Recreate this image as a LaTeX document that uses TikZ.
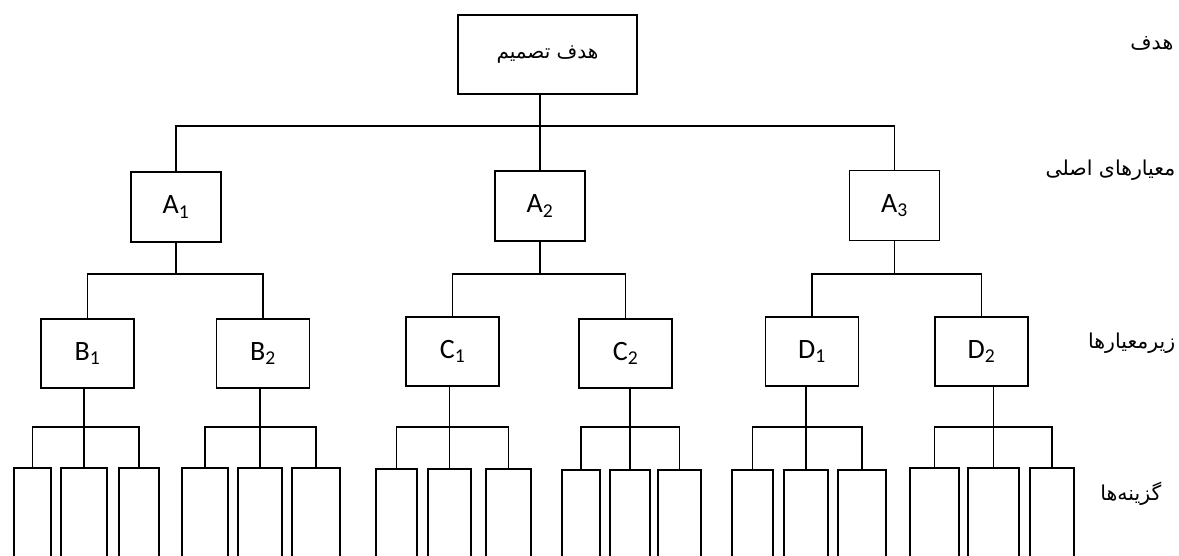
\documentclass[tikz,border=0pt]{standalone}
\usepackage{fontspec}
\setmainfont{Carlito}
\newfontfamily\farsi[Script=Arabic]{DejaVu Sans}
\TeXXeTstate=1
\usetikzlibrary{positioning}

\begin{document}
\begin{tikzpicture}[x=1pt, y=-1pt, line width=1.4pt,
                      goal/.style = {
                        draw, rectangle, inner sep=0pt,
                        minimum width=179pt, minimum height=79pt,
                        font=\farsi\fontsize{20}{24}\selectfont
                      },
                      crit/.style = {
                        draw, rectangle, inner sep=0pt,
                        minimum width=90pt, minimum height=70pt,
                        font=\fontsize{28}{32}\selectfont
                      },
                      subcrit/.style = {
                        crit,
                        minimum width=93pt, minimum height=69pt
                      },
                      alt/.style = {
                        draw, rectangle, inner sep=0pt,
                        minimum width=44pt, minimum height=100pt
                      },
                      level/.style = {
                        inner sep=0pt, anchor=east,
                        font=\farsi\fontsize{20.5}{24}\selectfont
                      }]
    \useasboundingbox (0,0) rectangle (1179,556);

    % levels on the right
    \node(lgoal)[level] at (1174, 43) {\beginR هدف\endR};
    \node(lcrit)[level] at (1176,170) {\beginR معیارهای اصلی\endR};
    \node(lsub)[level]  at (1176,343) {\beginR زیرمعیارها\endR};
    \node(lalt)[level]  at (1162,494) {\beginR گزینه‌ها\endR};

    \node(goal)[goal] at (547.5,54.5) {\beginR هدف تصمیم\endR};

    \node(A1)[crit] at (176,207)   {A\textsubscript{1}};
    \node(A2)[crit] at (540,206)   {A\textsubscript{2}};
    \node(A3)[crit] at (894.5,205.5) {A\textsubscript{3}};

    \node(B1)[subcrit] at (87.5,353.5)  {B\textsubscript{1}};
    \node(B2)[subcrit] at (263,353.5)   {B\textsubscript{2}};
    \node(C1)[subcrit] at (452.5,351.5) {C\textsubscript{1}};
    \node(C2)[subcrit] at (625.5,353.5) {C\textsubscript{2}};
    \node(D1)[subcrit] at (812,351.5)   {D\textsubscript{1}};
    \node(D2)[subcrit] at (981.5,351.5) {D\textsubscript{2}};

    % alternatives, cut off by the page
    \node(b11)[alt, minimum width=37pt] at (32.5,518) {};
    \node(b12)[alt, minimum width=46pt] at (84,518)   {};
    \node(b13)[alt, minimum width=40pt] at (139,518)  {};
    \node(b21)[alt, minimum width=46pt] at (205,518)  {};
    \node(b22)[alt]                     at (260,518)  {};
    \node(b23)[alt, minimum width=48pt] at (316,518)  {};
    \node(c11)[alt, minimum width=41pt] at (396.5,519) {};
    \node(c12)[alt, minimum width=43pt] at (449.5,519) {};
    \node(c13)[alt, minimum width=45pt] at (508.5,519) {};
    \node(c21)[alt, minimum width=38pt] at (581,520)   {};
    \node(c22)[alt, minimum width=40pt] at (630,520)   {};
    \node(c23)[alt, minimum width=43pt] at (679.5,520) {};
    \node(d11)[alt, minimum width=41pt] at (752.5,520) {};
    \node(d12)[alt]                     at (806,520)   {};
    \node(d13)[alt, minimum width=48pt] at (862,520)   {};
    \node(d21)[alt, minimum width=49pt] at (934.5,518) {};
    \node(d22)[alt, minimum width=51pt] at (993.5,518) {};
    \node(d23)[alt]                     at (1052,518)  {};

    \coordinate (bus1) at (0,126);
    \coordinate (bus2) at (0,274);
    \coordinate (bus3) at (0,427);

    \draw (A2.north |- goal.south) -- (A2.north);
    \draw (A1.north) -- (A1.north |- bus1) -- (A3.north |- bus1) -- (A3.north);

    \draw (A1.south) -- (A1.south |- bus2);
    \draw (B1.north) -- (B1.north |- bus2) -- (B2.north |- bus2) -- (B2.north);
    \draw (A2.south) -- (A2.south |- bus2);
    \draw (C1.north) -- (C1.north |- bus2) -- (C2.north |- bus2) -- (C2.north);
    \draw (A3.south) -- (A3.south |- bus2);
    \draw (D1.north) -- (D1.north |- bus2) -- (D2.north |- bus2) -- (D2.north);

    \draw (b12.north) -- (b12.north |- B1.south);
    \draw (b11.north) -- (b11.north |- bus3) -- (b13.north |- bus3) -- (b13.north);
    \draw (b22.north) -- (b22.north |- B2.south);
    \draw (b21.north) -- (b21.north |- bus3) -- (b23.north |- bus3) -- (b23.north);
    \draw (c12.north) -- (c12.north |- C1.south);
    \draw (c11.north) -- (c11.north |- bus3) -- (c13.north |- bus3) -- (c13.north);
    \draw (c22.north) -- (c22.north |- C2.south);
    \draw (c21.north) -- (c21.north |- bus3) -- (c23.north |- bus3) -- (c23.north);
    \draw (d12.north) -- (d12.north |- D1.south);
    \draw (d11.north) -- (d11.north |- bus3) -- (d13.north |- bus3) -- (d13.north);
    \draw (d22.north) -- (d22.north |- D2.south);
    \draw (d21.north) -- (d21.north |- bus3) -- (d23.north |- bus3) -- (d23.north);
\end{tikzpicture}
\end{document}
